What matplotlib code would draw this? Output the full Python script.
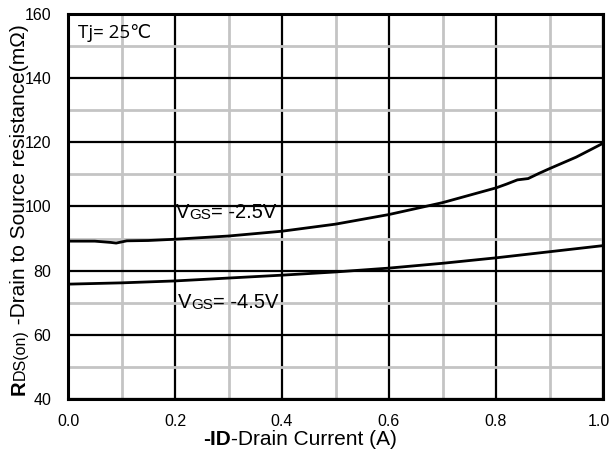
import matplotlib
matplotlib.use("Agg")
import matplotlib.pyplot as plt
import matplotlib.transforms as mtransforms
import numpy as np

plt.rcParams['font.family'] = ['Liberation Sans', 'DejaVu Sans']

# Data
id_25 = [0.0, 0.05, 0.08, 0.09, 0.11, 0.15, 0.2, 0.3, 0.4, 0.5, 0.6, 0.7, 0.8, 0.82, 0.84, 0.86, 0.88, 0.9, 0.95, 1.0]
r_25 = [89.2, 89.2, 88.8, 88.6, 89.3, 89.4, 89.8, 90.8, 92.3, 94.5, 97.5, 101.2, 105.8, 107.0, 108.3, 108.7, 110.3, 111.8, 115.4, 119.7]
id_45 = [0.0, 0.1, 0.2, 0.3, 0.4, 0.5, 0.6, 0.7, 0.8, 0.9, 1.0]
r_45 = [75.8, 76.2, 76.8, 77.7, 78.6, 79.6, 80.8, 82.3, 84.0, 85.9, 87.8]

xticks = [0.0, 0.2, 0.4, 0.6, 0.8, 1.0]
yticks = [40, 60, 80, 100, 120, 140, 160]

W, H = 611, 465
fig = plt.figure(figsize=(W / 100, H / 100), dpi=100)
ax = fig.add_axes([68 / W, 1 - 399 / H, (603 - 68) / W, (399 - 14) / H])

ax.set_xlim(0, 1.0)
ax.set_ylim(40, 160)
ax.set_xticks(xticks)
ax.set_xticklabels([f"{v:.1f}" for v in xticks])
ax.set_yticks(yticks)
ax.set_xticks(np.arange(0.1, 1.0, 0.2), minor=True)
ax.set_yticks(np.arange(50, 160, 20), minor=True)
ax.grid(which='minor', color='#c4c4c4', linewidth=2.0)
ax.grid(which='major', color='black', linewidth=1.6)
ax.set_axisbelow(True)
ax.tick_params(which='both', length=0)
ax.tick_params(axis='x', labelsize=11.5, pad=11)
ax.tick_params(axis='y', labelsize=11.5, pad=12)
for s in ax.spines.values():
    s.set_linewidth(2.2)

# nudge the last x tick label so it stays inside the canvas
last = ax.get_xticklabels()[-1]
last.set_transform(last.get_transform() + mtransforms.ScaledTranslation(-4 / 100, 0, fig.dpi_scale_trans))

ax.plot(id_25, r_25, color='black', linewidth=2.0)
ax.plot(id_45, r_45, color='black', linewidth=2.0)

def vgs_label(x, y, val):
    t = ax.text(x, y, "V", fontsize=14.5, va='baseline', ha='left')
    t2 = ax.annotate("GS", xy=(1, 0), xycoords=t, fontsize=11, va='bottom', ha='left')
    ax.annotate(f"= {val}", xy=(1, 0), xycoords=t2, fontsize=14.5, va='bottom', ha='left')

vgs_label(0.202, 96.4, "-2.5V")
vgs_label(0.206, 68.3, "-4.5V")

ax.text(0.019, 152.5, "Tj= 25℃", fontsize=13.5, family=['Open Sans', 'DejaVu Sans'], va='baseline')

# Composite axis labels placed piece by piece
fig.canvas.draw()
renderer = fig.canvas.get_renderer()

def chain(pieces, x0, y0, rotation):
    x, y = x0, y0
    for txt, size, weight in pieces:
        t = fig.text(x, y, txt, fontsize=size, fontweight=weight, rotation=rotation,
                     rotation_mode='anchor', ha='left', va='baseline')
        bb = t.get_window_extent(renderer)
        if rotation == 0:
            x += bb.width / W
        else:
            y += bb.height / H

chain([("-ID", 15, 'bold'), ("-Drain Current (A)", 15, 'normal')],
      203 / W, 1 - 445 / H, 0)
chain([("R", 14.5, 'bold'), ("DS(on)", 11.5, 'normal'),
       (" -Drain to Source resistance(mΩ)", 15, 'normal')],
      25 / W, 1 - 395 / H, 90)

fig.savefig("out.png", dpi=100)
